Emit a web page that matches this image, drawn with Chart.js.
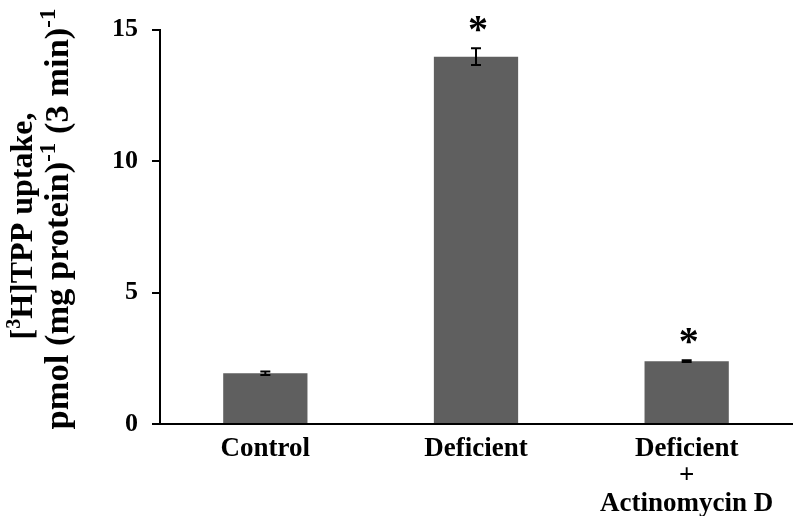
<!DOCTYPE html>
<html>
<head>
<meta charset="utf-8">
<script src="https://cdn.jsdelivr.net/npm/chart.js@4"></script>
<style>
html,body{margin:0;padding:0;background:#fff;}
#wrap{width:796px;height:516px;position:relative;}
</style>
</head>
<body>
<div id="wrap"><canvas id="c" width="796" height="516"></canvas></div>
<script>
const categories = [['Control'], ['Deficient'], ['Deficient', '+', 'Actinomycin D']];
const values = [1.93, 13.97, 2.39];
const errors = [0.07, 0.32, 0.03];
const significant = [false, true, true];
const yTicks = [0, 5, 10, 15];
const titleLine1 = [['[', false], ['3', true], ['H]TPP uptake,', false]];
const titleLine2 = [['pmol (mg protein)', false], ['-1', true], [' (3 min)', false], ['-1', true]];

const FONT = '"Liberation Serif", "Times New Roman", serif';

const extras = {
  id: 'extras',
  afterDatasetsDraw(chart) {
    const ctx = chart.ctx;
    const meta = chart.getDatasetMeta(0);
    const y = chart.scales.y;
    ctx.save();
    ctx.strokeStyle = '#000';
    ctx.lineWidth = 2;
    meta.data.forEach((bar, i) => {
      const x = bar.x;
      const yTop = y.getPixelForValue(values[i] + errors[i]);
      const yBot = y.getPixelForValue(values[i] - errors[i]);
      const cap = 5;
      ctx.beginPath();
      ctx.moveTo(x, yTop); ctx.lineTo(x, yBot);
      ctx.moveTo(x - cap, yTop); ctx.lineTo(x + cap, yTop);
      ctx.moveTo(x - cap, yBot); ctx.lineTo(x + cap, yBot);
      ctx.stroke();
      if (significant[i]) {
        ctx.font = 'bold 40px ' + FONT;
        ctx.fillStyle = '#000';
        ctx.textAlign = 'center';
        ctx.textBaseline = 'alphabetic';
        const m = ctx.measureText('*');
        const centerY = yTop - 24;
        ctx.fillText('*', x + 2, centerY + m.actualBoundingBoxAscent - (m.actualBoundingBoxAscent + m.actualBoundingBoxDescent) / 2);
      }
    });
    ctx.restore();
  },
  afterDraw(chart) {
    const ctx = chart.ctx;
    function drawLine(segs, baseX, centerY, size, supSize, supRaise) {
      let total = 0;
      segs.forEach(([t, sup]) => {
        ctx.font = 'bold ' + (sup ? supSize : size) + 'px ' + FONT;
        total += ctx.measureText(t).width;
      });
      ctx.save();
      ctx.translate(baseX, centerY);
      ctx.rotate(-Math.PI / 2);
      let pos = -total / 2;
      ctx.fillStyle = '#000';
      ctx.textAlign = 'left';
      ctx.textBaseline = 'alphabetic';
      segs.forEach(([t, sup]) => {
        ctx.font = 'bold ' + (sup ? supSize : size) + 'px ' + FONT;
        ctx.fillText(t, pos, sup ? -supRaise : 0);
        pos += ctx.measureText(t).width;
      });
      ctx.restore();
    }
    drawLine(titleLine1, 32, 226, 32, 20, 12);
    drawLine(titleLine2, 68, 219, 34.5, 23, 13);
  }
};

new Chart(document.getElementById('c'), {
  type: 'bar',
  data: {
    labels: categories,
    datasets: [{
      data: values,
      backgroundColor: '#5f5f5f',
      borderWidth: 0,
      barPercentage: 0.4,
      categoryPercentage: 1.0
    }]
  },
  options: {
    responsive: false,
    animation: false,
    devicePixelRatio: 1,
    layout: { padding: { left: 0, right: 4, top: 29, bottom: 0 } },
    plugins: { legend: { display: false }, tooltip: { enabled: false } },
    scales: {
      x: {
        grid: { display: false, drawTicks: false },
        border: { display: true, color: '#000', width: 2 },
        ticks: {
          color: '#000',
          padding: 11,
          maxRotation: 0,
          autoSkip: false,
          font: { family: FONT, size: 27, weight: 'bold', lineHeight: 1.02 }
        },
        afterFit(scale) { scale.height = 516 - 424; }
      },
      y: {
        min: 0, max: 15,
        afterBuildTicks(scale) { scale.ticks = yTicks.map(v => ({ value: v })); },
        grid: { display: true, drawOnChartArea: false, drawTicks: true, tickLength: 8, color: '#000', lineWidth: 2 },
        border: { display: true, color: '#000', width: 2 },
        ticks: {
          color: '#000',
          padding: 14,
          font: { family: FONT, size: 26, weight: 'bold' }
        },
        afterFit(scale) { scale.width = 160; }
      }
    }
  },
  plugins: [extras]
});
</script>
</body>
</html>
